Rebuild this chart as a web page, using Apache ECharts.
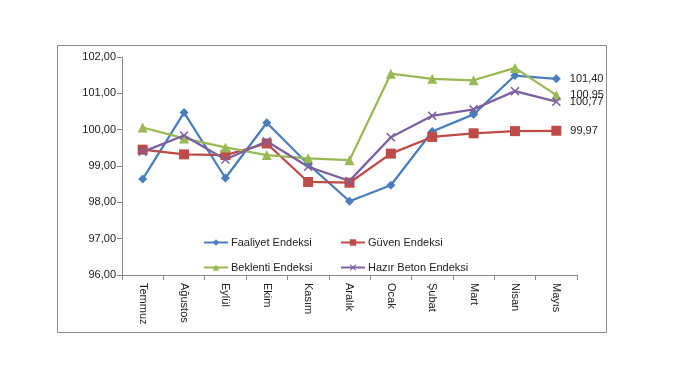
<!DOCTYPE html>
<html><head><meta charset="utf-8">
<script src="https://cdn.jsdelivr.net/npm/echarts@6/dist/echarts.min.js"></script>
<style>html,body{margin:0;padding:0;background:#fff}#c{width:675px;height:389px}</style>
</head><body><div id="c"></div>
<script>
const categories = ['Temmuz','Ağustos','Eylül','Ekim','Kasım','Aralık','Ocak','Şubat','Mart','Nisan','Mayıs'];
const faaliyet = [98.64, 100.47, 98.67, 100.19, 99.05, 98.03, 98.47, 99.95, 100.42, 101.49, 101.40];
const guven    = [99.45, 99.32, 99.30, 99.62, 98.56, 98.54, 99.34, 99.80, 99.90, 99.96, 99.97];
const beklenti = [100.06, 99.76, 99.51, 99.30, 99.21, 99.16, 101.54, 101.40, 101.36, 101.70, 100.95];
const hazirBeton = [99.39, 99.84, 99.18, 99.68, 98.98, 98.59, 99.79, 100.38, 100.56, 101.06, 100.77];
const seriesNames = ['Faaliyet Endeksi','Güven Endeksi','Beklenti Endeksi','Hazır Beton Endeksi'];
const yTicks = {min: 96, max: 102, interval: 1};

const FONT = "'Liberation Sans', Arial, sans-serif";
const fmt = v => v.toFixed(2).replace('.', ',');
const xPath = 'path://M0,1.2L1.2,0L5,3.8L8.8,0L10,1.2L6.2,5L10,8.8L8.8,10L5,6.2L1.2,10L0,8.8L3.8,5Z';

function mk(name, data, color, symbol, size) {
  const n = data.length;
  return {
    name, type: 'line', data, symbol, symbolSize: size,
    lineStyle: {color, width: 2.25},
    itemStyle: {color},
    label: {
      show: true, position: 'right', distance: 9,
      fontFamily: FONT, fontSize: 11, color: '#222',
      formatter: p => p.dataIndex === n - 1 ? fmt(p.value) : ''
    },
    emphasis: {disabled: true}, animation: false
  };
}

const chart = echarts.init(document.getElementById('c'), null, {renderer: 'canvas'});
function lg(name, left, top) {
  return {
    left, top, itemWidth: 24, itemHeight: 8, itemGap: 0, padding: 0,
    textStyle: {fontFamily: FONT, fontSize: 11, color: '#222', padding: [0,0,0,-2]},
    data: [name]
  };
}
chart.setOption({
  animation: false,
  graphic: [{type: 'rect', shape: {x: 57.5, y: 45.5, width: 549, height: 287}, style: {fill: 'none', stroke: '#8c8c8c', lineWidth: 1}, z: 0}],
  grid: {left: 122, right: 98, top: 57, bottom: 114},
  legend: [
    lg(seriesNames[0], 203, 237),
    lg(seriesNames[1], 340, 237),
    lg(seriesNames[2], 203, 262),
    lg(seriesNames[3], 340, 262)
  ],
  xAxis: {
    type: 'category', data: categories, boundaryGap: true,
    axisLine: {lineStyle: {color: '#868686'}},
    axisTick: {show: true, alignWithLabel: false, length: 5, lineStyle: {color: '#868686'}},
    axisLabel: {rotate: -90, margin: 8, fontFamily: FONT, fontSize: 11, color: '#222', interval: 0}
  },
  yAxis: {
    type: 'value', min: yTicks.min, max: yTicks.max, interval: yTicks.interval,
    axisLine: {show: true, lineStyle: {color: '#868686'}},
    axisTick: {show: true, length: 5, lineStyle: {color: '#868686'}},
    splitLine: {show: false},
    axisLabel: {formatter: v => fmt(v), fontFamily: FONT, fontSize: 11, color: '#222', margin: 6}
  },
  series: [
    mk(seriesNames[0], faaliyet, '#4A7EBB', 'diamond', 9),
    mk(seriesNames[1], guven, '#BE4B48', 'rect', 10),
    mk(seriesNames[2], beklenti, '#98B954', 'triangle', 10),
    mk(seriesNames[3], hazirBeton, '#7D60A0', xPath, 9)
  ]
});
</script></body></html>
